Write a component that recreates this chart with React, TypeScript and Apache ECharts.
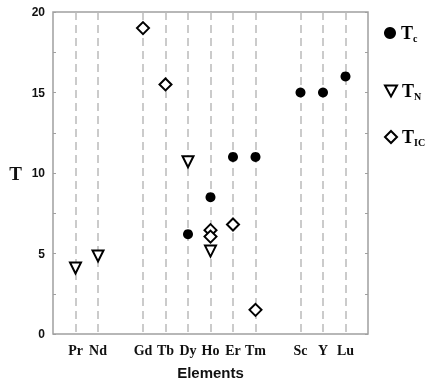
import React, { useEffect, useRef } from "react";
import * as echarts from "echarts";

const categories = [" ", "Pr", "Nd", "  ", "Gd", "Tb", "Dy", "Ho", "Er", "Tm", "   ", "Sc", "Y", "Lu", "    "];

const tcElements = ["Dy", "Ho", "Er", "Tm", "Sc", "Y", "Lu"];
const tcValues = [6.2, 8.5, 11, 11, 15, 15, 16];

const tnElements = ["Pr", "Nd", "Dy", "Ho"];
const tnValues = [4.1, 4.85, 10.7, 5.15];

const ticElements = ["Gd", "Tb", "Ho", "Ho", "Er", "Tm"];
const ticValues = [19, 15.5, 6.45, 6.05, 6.8, 1.5];

const yTicks = [0, 5, 10, 15, 20];

const pair = (els: string[], vals: number[]) => els.map((e, i) => [e, vals[i]]);

const richLegend = {
  b: { fontFamily: "Liberation Serif", fontWeight: "bold", fontSize: 18, color: "#000" },
  s: { fontFamily: "Liberation Serif", fontWeight: "bold", fontSize: 10, color: "#000", padding: [10, 0, 0, 0] },
};

export default function App() {
  const ref = useRef<HTMLDivElement>(null);
  useEffect(() => {
    const chart = echarts.init(ref.current!, null, { renderer: "svg" });
    const hollow = { color: "#fff", borderColor: "#000", borderWidth: 2, opacity: 1 };
    const mkLegend = (name: string, top: number, icon?: string) => ({
      data: [icon ? { name, icon } : name],
      left: 384,
      top,
      orient: "vertical",
      itemWidth: 12,
      itemHeight: 12,
      itemGap: 0,
      padding: 0,
      textStyle: { rich: richLegend },
      formatter: (n: string) => `{b|T}{s|${n.slice(1)}}`,
    });
    chart.setOption({
      animation: false,
      grid: { left: 53, right: 62, top: 12, bottom: 48, show: true, borderColor: "#a0a0a0", borderWidth: 1.5 },
      xAxis: {
        type: "category",
        data: categories,
        boundaryGap: false,
        axisLine: { show: false },
        axisTick: { show: false },
        axisLabel: {
          interval: 0,
          margin: 9,
          fontFamily: "Liberation Serif",
          fontWeight: "bold",
          fontSize: 14,
          color: "#111",
        },
        splitLine: {
          show: true,
          interval: (i: number, v: string) => v.trim() !== "",
          lineStyle: { color: "#bbb", type: [8, 5], width: 1.5 },
        },
        name: "Elements",
        nameLocation: "middle",
        nameGap: 31,
        nameTextStyle: { fontFamily: "Liberation Sans", fontWeight: "bold", fontSize: 15, color: "#111" },
      },
      yAxis: [
        {
          type: "value",
          min: 0,
          max: 20,
          interval: 2.5,
          axisLine: { show: false },
          axisTick: { show: true, inside: true, length: 3, lineStyle: { color: "#a0a0a0" } },
          axisLabel: {
            formatter: (v: number) => (yTicks.includes(v) ? String(v) : ""),
            fontFamily: "Liberation Sans",
            fontWeight: "bold",
            fontSize: 12,
            color: "#111",
            margin: 8,
          },
          splitLine: { show: false },
          name: "T",
          nameLocation: "middle",
          nameRotate: 0,
          nameGap: 31,
          nameTextStyle: { fontFamily: "Liberation Serif", fontWeight: "bold", fontSize: 19, color: "#111" },
        },
        {
          type: "value",
          position: "right",
          min: 0,
          max: 20,
          interval: 2.5,
          axisLine: { show: false },
          axisTick: { show: true, inside: true, length: 3, lineStyle: { color: "#a0a0a0" } },
          axisLabel: { show: false },
          splitLine: { show: false },
        },
      ],
      legend: [
        mkLegend("Tc", 24),
        mkLegend("TN", 82, "path://M0,0 L10,0 L5,9 Z"),
        mkLegend("TIC", 128),
      ],
      series: [
        {
          name: "Tc",
          type: "scatter",
          symbol: "circle",
          symbolSize: 10,
          itemStyle: { color: "#000", opacity: 1 },
          data: pair(tcElements, tcValues),
        },
        {
          name: "TN",
          type: "scatter",
          symbol: "triangle",
          symbolRotate: 180,
          symbolSize: 11,
          itemStyle: hollow,
          data: pair(tnElements, tnValues),
        },
        {
          name: "TIC",
          type: "scatter",
          symbol: "diamond",
          symbolSize: 12,
          itemStyle: hollow,
          data: pair(ticElements, ticValues),
        },
      ],
    });
    return () => chart.dispose();
  }, []);
  return <div ref={ref} style={{ position: "fixed", left: 0, top: 0, width: 430, height: 385 }} />;
}
